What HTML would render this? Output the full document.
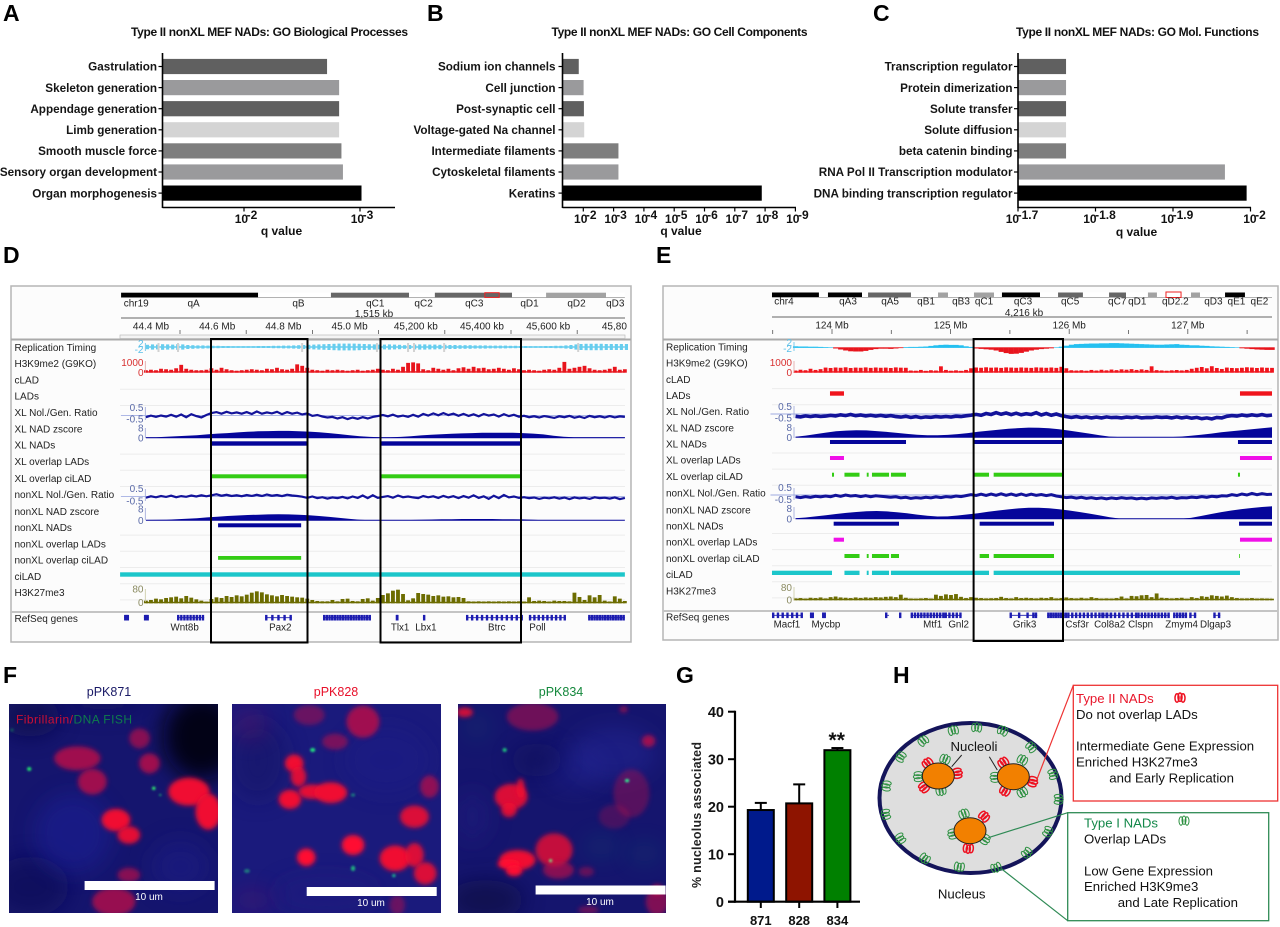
<!DOCTYPE html>
<html lang="en">
<head>
<meta charset="utf-8">
<title>Type II NADs figure</title>
<style>
html,body{margin:0;padding:0;background:#fff;width:1280px;height:927px;overflow:hidden}
svg{display:block}
text{font-family:"Liberation Sans",sans-serif;fill:#111}
.letter{font-size:23px;font-weight:bold;fill:#000}
.tl{font-size:10px;fill:#222}
.hd{font-size:10px;fill:#222}
.gn{font-size:9.8px;fill:#222}
.h{font-size:13.2px;fill:#111}
.f{font-size:12.5px}
.um{font-size:10px;fill:#fff}
</style>
</head>
<body>
<svg id="fig" xmlns="http://www.w3.org/2000/svg" width="1280" height="927" viewBox="0 0 1280 927">
<defs>
<filter id="b1" x="-100%" y="-100%" width="300%" height="300%"><feGaussianBlur stdDeviation="1"/></filter>
<filter id="b3" x="-100%" y="-100%" width="300%" height="300%"><feGaussianBlur stdDeviation="2.3"/></filter>
<filter id="b8" x="-200%" y="-200%" width="500%" height="500%"><feGaussianBlur stdDeviation="11"/></filter>
<clipPath id="clipF1"><rect x="9" y="704" width="209" height="209"/></clipPath>
<clipPath id="clipF2"><rect x="232" y="704" width="209" height="209"/></clipPath>
<clipPath id="clipF3"><rect x="458" y="704" width="208" height="209"/></clipPath>
</defs>
<rect x="0" y="0" width="1280" height="927" fill="#fff"/>

<text class="letter" x="3" y="21">A</text>
<text class="letter" x="427" y="21">B</text>
<text class="letter" x="873" y="21">C</text>
<text class="letter" x="3" y="263">D</text>
<text class="letter" x="656" y="263">E</text>
<text class="letter" x="3" y="683">F</text>
<text class="letter" x="676" y="683">G</text>
<text class="letter" x="893" y="683">H</text>

<g id="chartA">
<text x="131" y="36" font-size="12" font-weight="bold" textLength="277">Type II nonXL MEF NADs: GO Biological Processes</text>
<text x="281.5" y="235" font-size="12" font-weight="bold" text-anchor="middle">q value</text>
</g>
<g id="chartB">
<text x="551.5" y="36" font-size="12" font-weight="bold" textLength="256">Type II nonXL MEF NADs: GO Cell Components</text>
<text x="681" y="235" font-size="12" font-weight="bold" text-anchor="middle">q value</text>
</g>
<g id="chartC">
<text x="1016" y="36" font-size="12" font-weight="bold" textLength="243">Type II nonXL MEF NADs: GO Mol. Functions</text>
<text x="1136.5" y="236" font-size="12" font-weight="bold" text-anchor="middle">q value</text>
</g>

<g id="browserD">
<rect x="11" y="286" width="620" height="356" fill="#fcfcfc" stroke="#b5b5b5" stroke-width="1.5"/>
<line x1="11" y1="339.5" x2="631" y2="339.5" stroke="#aaa" stroke-width="2"/>
<rect x="11" y="611" width="620" height="2" fill="#c4c4c4"/>
<g id="rowsD"></g>
<g id="headerD"></g>
<g id="tracksD"></g>
<text class="tl" x="14.5" y="351">Replication Timing</text>
<text class="tl" x="14.5" y="367">H3K9me2 (G9KO)</text>
<text class="tl" x="14.5" y="383.5">cLAD</text>
<text class="tl" x="14.5" y="399.5">LADs</text>
<text class="tl" x="14.5" y="416">XL Nol./Gen. Ratio</text>
<text class="tl" x="14.5" y="432.5">XL NAD zscore</text>
<text class="tl" x="14.5" y="448.5">XL NADs</text>
<text class="tl" x="14.5" y="465">XL overlap LADs</text>
<text class="tl" x="14.5" y="482">XL overlap ciLAD</text>
<text class="tl" x="14.5" y="498">nonXL Nol./Gen. Ratio</text>
<text class="tl" x="14.5" y="515">nonXL NAD zscore</text>
<text class="tl" x="14.5" y="531">nonXL NADs</text>
<text class="tl" x="14.5" y="547.5">nonXL overlap LADs</text>
<text class="tl" x="14.5" y="563.5">nonXL overlap ciLAD</text>
<text class="tl" x="14.5" y="580">ciLAD</text>
<text class="tl" x="14.5" y="596">H3K27me3</text>
<text class="tl" x="14.5" y="622">RefSeq genes</text>
<rect x="211" y="339" width="96.5" height="303.5" fill="none" stroke="#000" stroke-width="2"/>
<rect x="380.5" y="339" width="140.5" height="303.5" fill="none" stroke="#000" stroke-width="2"/>
</g>

<g id="browserE">
<rect x="663" y="286" width="615" height="354" fill="#fcfcfc" stroke="#b5b5b5" stroke-width="1.5"/>
<line x1="663" y1="339.5" x2="1278" y2="339.5" stroke="#aaa" stroke-width="2"/>
<rect x="663" y="610" width="615" height="2" fill="#c4c4c4"/>
<g id="rowsE"></g>
<g id="headerE"></g>
<g id="tracksE"></g>
<text class="tl" x="666" y="350.5">Replication Timing</text>
<text class="tl" x="666" y="366.5">H3K9me2 (G9KO)</text>
<text class="tl" x="666" y="383">cLAD</text>
<text class="tl" x="666" y="399">LADs</text>
<text class="tl" x="666" y="415">XL Nol./Gen. Ratio</text>
<text class="tl" x="666" y="431.5">XL NAD zscore</text>
<text class="tl" x="666" y="447.5">XL NADs</text>
<text class="tl" x="666" y="463.5">XL overlap LADs</text>
<text class="tl" x="666" y="480">XL overlap ciLAD</text>
<text class="tl" x="666" y="496.5">nonXL Nol./Gen. Ratio</text>
<text class="tl" x="666" y="513.5">nonXL NAD zscore</text>
<text class="tl" x="666" y="529.5">nonXL NADs</text>
<text class="tl" x="666" y="545.5">nonXL overlap LADs</text>
<text class="tl" x="666" y="562">nonXL overlap ciLAD</text>
<text class="tl" x="666" y="578">ciLAD</text>
<text class="tl" x="666" y="594.5">H3K27me3</text>
<text class="tl" x="666" y="620.5">RefSeq genes</text>
<rect x="973.6" y="339" width="89.4" height="302" fill="none" stroke="#000" stroke-width="2"/>
</g>

<g id="panelF">
<text class="f" x="109" y="696" text-anchor="middle" style="fill:#1a1a66">pPK871</text>
<text class="f" x="336" y="696" text-anchor="middle" style="fill:#e8102a">pPK828</text>
<text class="f" x="561" y="696" text-anchor="middle" style="fill:#14883c">pPK834</text>
<g id="imgF1" clip-path="url(#clipF1)"></g>
<g id="imgF2" clip-path="url(#clipF2)"></g>
<g id="imgF3" clip-path="url(#clipF3)"></g>
<text x="16" y="723.5" font-size="12" textLength="116"><tspan style="fill:#cc0f35">Fibrillarin/</tspan><tspan style="fill:#0e7c4c">DNA FISH</tspan></text>
<rect x="84.6" y="881" width="130" height="9" fill="#fff"/>
<text class="um" x="149" y="900" text-anchor="middle">10 um</text>
<rect x="306.7" y="887" width="130" height="9" fill="#fff"/>
<text class="um" x="371" y="906" text-anchor="middle">10 um</text>
<rect x="535.6" y="885.5" width="130" height="9" fill="#fff"/>
<text class="um" x="600" y="905" text-anchor="middle">10 um</text>
</g>

<g id="chartG">
<text transform="translate(701,815) rotate(-90)" font-size="12.5" font-weight="bold" text-anchor="middle" textLength="146" style="fill:#222">% nucleolus associated</text>
<text x="836.7" y="747" font-size="21" font-weight="bold" text-anchor="middle">**</text>
</g>

<g id="panelH">
<ellipse cx="970.5" cy="798" rx="91" ry="75" fill="#dedede" stroke="#14145a" stroke-width="4"/>
<g id="loops"></g>
<ellipse cx="938.3" cy="776" rx="16" ry="13" fill="#f28000" stroke="#222" stroke-width="1"/>
<ellipse cx="1013.3" cy="776.7" rx="16" ry="13" fill="#f28000" stroke="#222" stroke-width="1"/>
<ellipse cx="970" cy="830.7" rx="16" ry="13" fill="#f28000" stroke="#222" stroke-width="1"/>
<text class="h" x="974" y="751" text-anchor="middle">Nucleoli</text>
<line x1="951.7" y1="766.7" x2="961.7" y2="755" stroke="#222"/>
<line x1="997.3" y1="770" x2="989.3" y2="756.7" stroke="#222"/>
<text class="h" x="961.7" y="898.5" text-anchor="middle">Nucleus</text>
<line x1="1073.3" y1="685.3" x2="1036.7" y2="780" stroke="#e33" stroke-width="1.2"/>
<rect x="1073.3" y="685.3" width="204.4" height="115.7" fill="#fff" stroke="#e33" stroke-width="1.3"/>
<text class="h" x="1076" y="703" style="fill:#e8152a">Type II NADs</text>
<text class="h" x="1076" y="719">Do not overlap LADs</text>
<text class="h" x="1076" y="750.5">Intermediate Gene Expression</text>
<text class="h" x="1076" y="766.5">Enriched H3K27me3</text>
<text class="h" x="1109.3" y="782.5">and Early Replication</text>
<line x1="1067.7" y1="812.7" x2="988.3" y2="837.7" stroke="#2f8a55" stroke-width="1.2"/>
<line x1="1067.7" y1="920.7" x2="1001.7" y2="869" stroke="#2f8a55" stroke-width="1.2"/>
<rect x="1067.7" y="812.7" width="201" height="108" fill="#fff" stroke="#2f8a55" stroke-width="1.3"/>
<text class="h" x="1084" y="827.5" style="fill:#14884a">Type I NADs</text>
<text class="h" x="1084" y="843.5">Overlap LADs</text>
<text class="h" x="1084" y="875.5">Low Gene Expression</text>
<text class="h" x="1084" y="891">Enriched H3K9me3</text>
<text class="h" x="1117.7" y="907">and Late Replication</text>
<g id="loopKeys"></g>
</g>
</svg>

<script>
/* ---------- GO bar charts ---------- */
const goCategoriesA = ['Gastrulation','Skeleton generation','Appendage generation','Limb generation','Smooth muscle force','Sensory organ development','Organ morphogenesis'];
const goValuesA = [2.716,2.82,2.82,2.82,2.84,2.853,3.013];
const goTicksA = [2,3];
const goTickLabelsA = ['-2','-3'];
const goCategoriesB = ['Sodium ion channels','Cell junction','Post-synaptic cell','Voltage-gated Na channel','Intermediate filaments','Cytoskeletal filaments','Keratins'];
const goValuesB = [1.85,2.01,2.02,2.03,3.16,3.16,7.89];
const goTicksB = [2,3,4,5,6,7,8,9];
const goTickLabelsB = ['-2','-3','-4','-5','-6','-7','-8','-9'];
const goCategoriesC = ['Transcription regulator','Protein dimerization','Solute transfer','Solute diffusion','beta catenin binding','RNA Pol II Transcription modulator','DNA binding transcription regulator'];
const goValuesC = [1.762,1.762,1.762,1.762,1.762,1.967,1.995];
const goTicksC = [1.7,1.8,1.9,2];
const goTickLabelsC = ['-1.7','-1.8','-1.9','-2'];
const goShades = ['#606060','#9a9a9c','#606060','#d4d4d4','#7e7e7e','#9a9a9c','#000000'];

/* ---------- Browser D (chr19) ---------- */
const bandStartsD = [44.222,44.636,44.856,45.092,45.170,45.403,45.506,45.687];
const bandEndsD = [44.636,44.856,45.092,45.170,45.403,45.506,45.687,45.744];
const bandStainsD = ['black','white','dark','white','dark','white','gray','white'];
const bandLabelsD = ['chr19','qA','qB','qC1','qC2','qC3','qD1','qD2','qD3'];
const bandLabelMbD = [44.23,44.441,44.758,44.99,45.136,45.289,45.456,45.598,45.715];
const scaleTicksD = [44.4,44.6,44.8,45.0,45.2,45.4,45.6,45.8];
const scaleLabelsD = ['44.4 Mb','44.6 Mb','44.8 Mb','45.0 Mb','45,200 kb','45,400 kb','45,600 kb','45,80'];
const repD = [1.1,1.3,1.2,1.4,1.3,1.2,1.4,1.3,1.0,0.9,0.8,0.8,0.7,0.6,0.6,0.5,0.5,0.4,0.4,0.4,0.4,0.4,0.5,0.5,0.5,0.6,0.6,0.7,0.7,0.8,0.9,1.0,1.1,1.2,1.3,1.4,1.5,1.6,1.7,1.7,1.7,1.7,1.6,1.5,1.4,1.3,1.2,1.2,1.3,1.2,1.1,0.9,1.0,1.2,1.3,1.3,1.2,1.2,1.1,1.1,1.0,1.0,0.9,0.9,0.9,0.8,0.8,0.8,0.7,0.7,0.7,0.7,0.6,0.6,0.5,0.5,0.4,0.4,0.4,0.5,0.5,0.6,0.6,0.8,1.0,1.3,1.5,1.6,1.6,1.6,1.6,1.5,1.5,1.5,1.5,1.5];
const repGapsD = [44.332,44.391,44.766,44.992,45.086,45.104,45.195,45.60];
const h3k9D = [150,200,150,300,250,200,350,700,300,200,150,150,200,350,200,400,250,150,100,150,200,250,200,150,300,250,400,250,200,300,750,600,400,200,150,100,200,150,200,150,100,150,200,100,150,200,300,200,150,300,200,500,900,950,850,250,150,400,300,200,300,150,350,450,300,500,350,400,250,300,400,300,200,350,250,150,200,150,100,200,250,200,400,1000,300,400,500,600,350,200,150,200,300,500,200,250];
const xlRatioD = [-0.12,-0.02,-0.1,-0.01,-0.08,0.03,-0.09,0.05,-0.12,0.07,-0.05,-0.13,0.02,0.14,0.2,0.1,0.22,0.12,0.18,0.1,0.2,0.08,0.24,0.1,0.18,0.12,0.22,0.07,0.2,0.1,0.17,0.05,0.12,-0.04,0.02,-0.08,-0.14,-0.1,-0.2,-0.12,-0.24,-0.14,-0.22,-0.12,-0.2,-0.1,-0.05,0.02,-0.06,0.04,-0.08,-0.02,-0.1,0.03,-0.09,0.08,-0.02,0.12,0.0,0.14,0.01,0.1,-0.03,0.09,-0.04,0.06,-0.06,0.08,-0.02,0.05,-0.08,0.07,-0.05,0.03,-0.09,-0.03,-0.12,-0.06,-0.14,-0.05,-0.1,-0.16,-0.06,-0.12,-0.04,-0.15,-0.08,-0.17,-0.04,-0.12,-0.06,-0.14,-0.05,-0.13,-0.07,-0.1];
const xlZD = [0.3,0.4,0.7,1.1,1.5,2.0,2.6,3.3,3.7,4.2,4.7,5.1,5.3,5.4,5.4,5.2,4.9,4.4,3.7,2.9,2.0,1.2,0.6,0.3,0.3,0.6,1.2,1.8,2.3,2.7,3.1,3.4,3.7,3.9,4.0,4.0,3.9,3.7,3.3,2.6,1.6,0.8,0.4,0.3,0.3,0.3,0.3,0.3];
const nonRatioD = [-0.08,0.03,-0.05,0.06,-0.02,0.08,-0.04,0.05,-0.01,0.1,0.02,0.12,0.03,0.12,0.2,0.08,0.16,0.06,0.12,0.04,0.14,0.07,0.16,0.06,0.18,0.08,0.14,0.05,0.17,0.1,0.06,0.0,-0.1,0.02,-0.12,-0.04,-0.16,-0.06,-0.12,-0.02,-0.14,0.02,-0.1,0.1,-0.12,0.12,-0.1,-0.02,0.05,-0.08,0.1,-0.04,0.02,-0.06,-0.12,0.06,-0.05,0.03,-0.1,0.07,-0.07,0.04,-0.12,0.05,-0.08,0.12,-0.1,0.03,-0.18,0.08,-0.12,0.14,-0.06,0.02,-0.1,-0.04,-0.12,-0.07,-0.18,-0.08,-0.13,-0.05,-0.16,-0.07,-0.2,-0.06,-0.14,-0.08,-0.18,-0.05,-0.12,-0.08,-0.16,-0.06,-0.2,-0.1];
const nonZD = [0.2,0.3,0.5,0.8,1.2,1.7,2.3,2.9,3.4,3.8,4.2,4.5,4.7,4.8,4.7,4.4,4.0,3.4,2.7,1.9,1.1,0.4,0,0,0,0,0.2,0.4,0.6,0.8,0.9,1,1,1,1,0.9,0.8,0.7,0.4,0.1,0,0,0,0,0,0,0,0];
const h3k27D = [10,14,22,18,26,30,34,24,38,28,18,10,4,20,30,26,38,32,42,36,46,58,66,60,48,42,36,44,38,34,30,28,22,14,8,6,6,14,6,20,22,8,6,20,24,10,26,44,54,70,76,50,12,24,56,50,46,38,42,34,36,30,32,26,6,5,6,5,6,5,6,5,6,5,6,5,30,8,10,8,5,10,8,8,6,58,32,14,42,30,44,10,5,36,22,8];
const xlNadStartsD = [44.494,45.006];
const xlNadEndsD = [44.785,45.43];
const nonNadStartsD = [44.515];
const nonNadEndsD = [44.766];
const ciladStartsD = [44.219];
const ciladEndsD = [45.744];
const geneStartsD = [44.231,44.291,44.391,44.657,44.832,45.053,45.134,45.264,45.454,45.633];
const geneEndsD = [44.246,44.306,44.473,44.738,44.977,45.059,45.137,45.436,45.566,45.744];
const geneExonsD = [3,3,9,5,18,2,1,12,9,14];
const geneNamesD = ['Wnt8b','Pax2','Tlx1','Lbx1','Btrc','Poll'];
const geneNameMbD = [44.414,44.703,45.065,45.143,45.357,45.48];

/* ---------- Browser E (chr4) ---------- */
const bandStartsE = [123.494,123.89,123.966,124.253,124.304,124.666,124.894,124.978,125.197,125.366,125.433,125.754,125.906,126.116,126.336,126.479,126.664,126.74,127.027,127.103,127.314,127.482];
const bandEndsE = [123.89,123.966,124.253,124.304,124.666,124.894,124.978,125.197,125.366,125.433,125.754,125.906,126.116,126.336,126.479,126.664,126.74,127.027,127.103,127.314,127.482,127.71];
const bandStainsE = ['black','white','black','white','dark','white','gray','white','gray','white','black','white','dark','white','dark','white','gray','white','gray','white','black','white'];
const bandLabelsE = ['chr4','qA3','qA5','qB1','qB3','qC1','qC3','qC5','qC7','qD1','qD2.2','qD3','qE1','qE2'];
const bandLabelMbE = [123.595,124.135,124.49,124.793,125.088,125.282,125.611,126.008,126.405,126.574,126.895,127.216,127.41,127.604];
const scaleTicksE = [124,125,126,127];
const scaleLabelsE = ['124 Mb','125 Mb','126 Mb','127 Mb'];
const minorTicksE = [123.5,124.5,125.5,126.5,127.5];
const repE = [0.5,0.4,0.4,0.3,0.3,0.2,0.1,0,-0.3,-0.8,-1.3,-1.7,-1.8,-1.8,-1.5,-1.0,-0.6,-0.4,-0.4,-0.5,-0.3,-0.1,0.1,0.2,0.2,0.3,0.4,0.7,1.0,1.2,1.3,1.2,1.2,1.0,0.5,0.2,-0.3,-0.5,-0.7,-0.9,-1.3,-2.0,-2.6,-3.0,-2.9,-2.5,-1.9,-1.3,-0.9,-0.6,-0.4,-0.2,0,0.3,0.8,1.3,1.6,1.7,1.8,1.9,1.9,2.0,2.0,2.1,2.1,2.0,1.9,1.8,1.7,1.6,1.5,1.4,1.3,1.3,1.4,1.5,1.6,1.3,1.2,1.0,1.0,0.8,0.7,0.5,0.4,0.3,0.2,0.1,0,-0.2,-0.4,-0.6,-0.8,-0.9,-1.0,-1.0];
const h3k9E = [120,200,150,300,180,260,420,380,430,400,450,380,420,400,440,390,430,400,420,380,440,410,400,120,100,180,90,150,120,550,180,100,140,90,180,350,430,400,450,410,430,390,440,420,400,430,410,390,440,420,400,430,390,500,350,150,120,150,100,180,120,200,140,220,160,240,200,260,180,240,180,550,160,130,100,140,170,130,180,300,400,480,350,560,380,280,420,380,360,400,450,420,380,430,400,390];
const xlRatioE = [-0.18,-0.22,-0.15,-0.2,-0.14,-0.19,-0.16,-0.1,-0.15,-0.06,-0.12,-0.04,-0.13,-0.08,-0.15,-0.09,-0.16,-0.1,-0.18,-0.12,-0.2,-0.24,-0.18,-0.26,-0.2,-0.28,-0.22,-0.25,-0.2,-0.24,-0.19,-0.23,-0.17,-0.2,-0.14,-0.09,-0.03,-0.1,0.04,-0.04,0.1,-0.02,0.08,-0.05,0.06,-0.06,0.02,-0.04,0.1,-0.08,0.04,-0.1,0.0,-0.12,-0.2,-0.26,-0.2,-0.28,-0.22,-0.3,-0.24,-0.3,-0.22,-0.28,-0.25,-0.3,-0.24,-0.28,-0.22,-0.3,-0.26,-0.28,-0.22,-0.26,-0.24,-0.3,-0.22,-0.3,-0.24,-0.32,-0.26,-0.36,-0.3,-0.38,-0.26,-0.3,-0.18,-0.12,-0.16,-0.08,-0.14,-0.06,-0.12,-0.05,-0.13,-0.08];
const xlZE = [0.4,1.4,2.6,3.8,4.8,5.4,5.6,5.5,5.0,4.3,3.5,2.7,2.0,1.6,1.6,1.9,2.6,3.4,4.4,5.2,6.0,6.8,7.4,7.8,7.7,7.2,6.4,5.4,4.2,3.0,1.6,0.6,0.2,0.1,0.1,0.1,0.1,0.2,0.6,1.2,2.0,3.0,4.0,4.8,5.6,6.4,7.2,8.0];
const nonRatioE = [-0.14,-0.2,-0.12,-0.18,-0.1,-0.15,-0.08,-0.13,-0.02,-0.1,0.0,-0.08,-0.04,-0.12,-0.05,-0.13,-0.06,-0.1,-0.14,-0.18,-0.14,-0.22,-0.18,-0.26,-0.2,-0.24,-0.18,-0.22,-0.15,-0.2,-0.12,-0.16,-0.08,-0.12,-0.05,0.02,-0.04,0.06,-0.03,0.08,-0.02,0.09,-0.02,0.07,-0.03,0.08,-0.04,0.06,-0.02,0.04,-0.05,0.02,-0.08,-0.14,-0.2,-0.16,-0.24,-0.18,-0.26,-0.2,-0.28,-0.22,-0.3,-0.22,-0.28,-0.2,-0.26,-0.22,-0.3,-0.24,-0.3,-0.22,-0.26,-0.2,-0.24,-0.18,-0.26,-0.2,-0.22,-0.16,-0.2,-0.12,-0.18,-0.1,-0.14,-0.06,-0.08,0.02,-0.04,0.08,0.0,0.12,0.02,0.1,0.04,0.06];
const nonZE = [0.3,0.9,1.7,2.5,3.4,4.2,4.9,5.4,5.6,5.3,4.7,3.9,3.0,2.2,1.6,1.7,2.3,3.1,4.0,5.0,6.0,6.8,7.5,8.0,8.0,7.6,6.9,6.0,4.9,3.7,2.4,1.0,0.1,0,0,0,0,0,0,0.6,2.0,3.4,4.8,6.0,7.0,7.8,8.5,9.0];
const h3k27E = [6,8,5,10,8,12,6,14,18,12,10,8,12,9,12,10,14,12,16,18,14,30,10,5,4,6,8,5,30,22,32,28,34,16,8,14,10,8,6,7,8,16,8,6,14,8,10,8,6,10,8,14,6,8,12,8,6,10,6,14,8,5,6,5,8,18,6,22,20,26,28,14,38,10,8,6,8,10,4,14,8,20,16,26,22,18,24,14,8,6,6,8,5,6,5,4];
const ladStartsE = [123.983,127.44];
const ladEndsE = [124.101,127.71];
const xlNadStartsE = [123.983,125.194,127.423];
const xlNadEndsE = [124.624,125.944,127.71];
const xlOvlLadStartsE = [123.983,127.44];
const xlOvlLadEndsE = [124.101,127.71];
const xlOvlCiStartsE = [124.0,124.105,124.293,124.337,124.497,125.194,125.363,127.423];
const xlOvlCiEndsE = [124.017,124.232,124.309,124.481,124.624,125.324,125.944,127.44];
const nonNadStartsE = [124.014,125.245,127.432];
const nonNadEndsE = [124.565,125.872,127.71];
const nonOvlLadStartsE = [124.014,127.44];
const nonOvlLadEndsE = [124.101,127.71];
const nonOvlCiStartsE = [124.105,124.293,124.337,124.497,125.245,125.363,127.432];
const nonOvlCiEndsE = [124.232,124.309,124.481,124.565,125.324,125.872,127.437];
const ciladStartsE = [123.494,124.105,124.293,124.337,124.497,125.363];
const ciladEndsE = [124.0,124.232,124.309,124.481,125.324,127.44];
const geneStartsE = [123.494,123.814,123.916,124.447,124.565,124.663,124.949,125.497,125.688,125.814,125.983,126.27,126.574,126.876,127.012,127.215];
const geneEndsE = [123.755,123.848,123.949,124.481,124.574,124.949,125.093,125.73,125.722,125.983,126.363,126.574,126.848,126.994,127.071,127.274];
const geneExonsE = [7,2,2,1,1,11,5,4,1,8,12,9,10,5,2,2];
const geneNamesE = ['Macf1','Mycbp','Mtf1','Gnl2','Grik3','Csf3r','Col8a2','Clspn','Zmym4','Dlgap3'];
const geneNameMbE = [123.62,123.949,124.849,125.068,125.624,126.067,126.341,126.602,126.948,127.234];

/* ---------- Panel G ---------- */
const plasmidLabels = ['871','828','834'];
const nucleolusMeans = [19.3,20.7,31.9];
const nucleolusErrors = [1.5,4.0,0.45];
const nucleolusStains = ['blue','red','green'];
const yTicksG = [0,10,20,30,40];

const NS = 'http://www.w3.org/2000/svg';
function mk(parent, tag, attrs, name) {
  const el = document.createElementNS(NS, tag);
  for (const k in attrs) el.setAttribute(k, attrs[k]);
  
  
  parent.appendChild(el);
  return el;
}
function txt(parent, x, y, str, attrs, name) {
  const a = Object.assign({x: x, y: y}, attrs);
  const el = mk(parent, 'text', a, name);
  el.textContent = str;
  return el;
}
const $ = id => document.getElementById(id);

/* GO horizontal bar chart */
function goChart(g, categories, values, ticks, tickLabels, opt) {
  const xScale = v => opt.x0 + (v - opt.v0) * opt.pxPerUnit;
  const rowY = i => 66.5 + i * 21.1;
  categories.forEach((c, i) => {
    mk(g, 'rect', {x: opt.axisX, y: rowY(i) - 7.6, width: xScale(values[i]) - opt.axisX, height: 15.2, fill: goShades[i]}, 'go-bar');
    mk(g, 'line', {x1: opt.axisX - 4, x2: opt.axisX, y1: rowY(i), y2: rowY(i), stroke: '#000', 'stroke-width': 1.2}, 'y-tick');
    txt(g, opt.axisX - opt.labelGap, rowY(i) + 4.2, c, {'font-size': 11.7, 'font-weight': 'bold', 'text-anchor': 'end', style: 'fill:#151515'}, 'go-category-label');
  });
  mk(g, 'line', {x1: opt.axisX, x2: opt.axisX, y1: 53, y2: 208, stroke: '#000', 'stroke-width': 1.6}, 'y-axis');
  mk(g, 'line', {x1: opt.axisX, x2: opt.xEnd, y1: 207.5, y2: 207.5, stroke: '#000', 'stroke-width': 1.6}, 'x-axis');
  ticks.forEach((t, i) => {
    const x = xScale(t);
    mk(g, 'line', {x1: x, x2: x, y1: 207, y2: 211.5, stroke: '#000', 'stroke-width': 1.2}, 'x-tick');
    const label = txt(g, x + opt.labelDx, 223, '10', {'font-size': 12, 'font-weight': 'bold', 'text-anchor': 'middle'}, 'x-tick-label');
    const s = document.createElementNS(NS, 'tspan');
    s.setAttribute('dy', '-4');
    s.setAttribute('dx', '-1.5');
    s.textContent = tickLabels[i];
    label.appendChild(s);
  });
}
goChart($('chartA'), goCategoriesA, goValuesA, goTicksA, goTickLabelsA, {x0: 244, v0: 2, pxPerUnit: 116, axisX: 162.5, xEnd: 395, labelDx: 2, labelGap: 5.5});
goChart($('chartB'), goCategoriesB, goValuesB, goTicksB, goTickLabelsB, {x0: 583.3, v0: 2, pxPerUnit: 30.3, axisX: 562.5, xEnd: 796, labelDx: 2, labelGap: 7});
goChart($('chartC'), goCategoriesC, goValuesC, goTicksC, goTickLabelsC, {x0: 1018, v0: 1.7, pxPerUnit: 775, axisX: 1018, xEnd: 1251, labelDx: 4, labelGap: 5.5});

/* Genome browser helpers */
const xD = mb => 180 + (mb - 44.4) * 331;
const xE = mb => 832 + (mb - 124) * 118.6;
const stainFill = {black: '#000', dark: '#666', gray: '#a2a2a2', white: '#fff'};

function ideogram(g, scale, starts, ends, stains, yTop) {
  starts.forEach((s, i) => {
    mk(g, 'rect', {x: scale(s), y: yTop, width: scale(ends[i]) - scale(s), height: 4.7, fill: stainFill[stains[i]]}, 'cytoband');
  });
  mk(g, 'line', {x1: scale(starts[0]), x2: scale(ends[ends.length - 1]), y1: yTop + 4.9, y2: yTop + 4.9, stroke: '#999', 'stroke-width': 0.7}, 'ideogram-outline');
}
function segments(g, scale, starts, ends, y0, h, color, name) {
  starts.forEach((s, i) => {
    mk(g, 'rect', {x: scale(s), y: y0, width: Math.max(0.8, scale(ends[i]) - scale(s)), height: h, fill: color}, name);
  });
}
function binMb(i, n, a, b) { return a + (b - a) * i / (n - 1); }
function areaTrack(g, scale, values, a, b, zeroY, k, color, name) {
  let d = 'M' + scale(a) + ' ' + zeroY;
  values.forEach((v, i) => { d += 'L' + scale(binMb(i, values.length, a, b)).toFixed(1) + ' ' + (zeroY - v * k).toFixed(1); });
  d += 'L' + scale(b) + ' ' + zeroY + 'Z';
  mk(g, 'path', {d: d, fill: color}, name);
  mk(g, 'line', {x1: scale(a), x2: scale(b), y1: zeroY, y2: zeroY, stroke: color, 'stroke-width': 1}, name + '-baseline');
}
function barTrack(g, scale, values, a, b, zeroY, k, color, name) {
  const w = (scale(b) - scale(a)) / (values.length - 1);
  values.forEach((v, i) => {
    mk(g, 'rect', {x: scale(binMb(i, values.length, a, b)) - w * 0.38, y: zeroY - v * k, width: w * 0.76, height: v * k + 1, fill: color}, name);
  });
  mk(g, 'line', {x1: scale(a), x2: scale(b), y1: zeroY + 0.2, y2: zeroY + 0.2, stroke: color, 'stroke-width': 1.4}, name + '-baseline');
}
function ratioTrack(g, scale, values, a, b, zeroY, k, width, name) {
  const pts = values.map((v, i) => scale(binMb(i, values.length, a, b)).toFixed(1) + ',' + (zeroY - v * k).toFixed(1)).join(' ');
  mk(g, 'line', {x1: scale(a) - 25, x2: scale(b), y1: zeroY, y2: zeroY, stroke: '#7f8fd8', 'stroke-width': 0.7}, name + '-zero-line');
  mk(g, 'polyline', {points: pts, fill: 'none', stroke: '#13139a', 'stroke-width': width}, name);
}
function genes(g, scale, starts, ends, exons, y) {
  starts.forEach((s, i) => {
    const x1 = scale(s), x2 = scale(ends[i]);
    mk(g, 'line', {x1: x1, x2: x2, y1: y, y2: y, stroke: '#1c1cb0', 'stroke-width': 0.8}, 'gene-body');
    for (let e = 0; e < exons[i]; e++) {
      const ex = exons[i] > 1 ? x1 + (x2 - x1 - 2.4) * e / (exons[i] - 1) : x1;
      mk(g, 'rect', {x: ex, y: y - 2.8, width: 2.4, height: 5.6, fill: '#1c1cb0'}, 'gene-exon');
    }
  });
}
function axisLabels(g, x, entries) {
  entries.forEach(e => {
    txt(g, x, e[1], e[0], {'font-size': 10, 'text-anchor': 'end', style: 'fill:' + e[2]}, 'track-axis-label');
  });
}
function rowLines(g, x1, x2, y0, step) {
  [3, 4, 7, 8, 9, 12, 13, 14, 15, 16].forEach(k => {
    mk(g, 'line', {x1: x1, x2: x2, y1: y0 + k * step, y2: y0 + k * step, stroke: '#ececec', 'stroke-width': 1}, 'track-row-line');
  });
}

/* Browser D */
(function () {
  const h = $('headerD'), t = $('tracksD');
  rowLines($('rowsD'), 120, 625, 340.7, 16.2);
  ideogram(h, xD, bandStartsD, bandEndsD, bandStainsD, 292.7);
  mk(h, 'rect', {x: xD(45.321), y: 292.7, width: xD(45.364) - xD(45.321), height: 4.7, fill: 'none', stroke: '#e22', 'stroke-width': 1}, 'current-view-marker');
  bandLabelsD.forEach((l, i) => { txt(h, xD(bandLabelMbD[i]) , 306.5, l, {'class': 'hd', 'text-anchor': i ? 'middle' : 'start'}, 'cytoband-label'); });
  mk(h, 'line', {x1: 121, x2: 625, y1: 318, y2: 318, stroke: '#333', 'stroke-width': 0.7}, 'scale-line');
  txt(h, 374, 317, '1,515 kb', {'class': 'hd', 'text-anchor': 'middle'}, 'scale-length-label');
  mk(h, 'rect', {x: 120, y: 335, width: 505, height: 3.5, fill: '#f4f4f4', stroke: '#bbb', 'stroke-width': 0.7}, 'scale-strip');
  scaleTicksD.forEach((m, i) => {
    if (xD(m) < 625) {
      mk(h, 'line', {x1: xD(m), x2: xD(m), y1: 330, y2: 334, stroke: '#555', 'stroke-width': 0.8}, 'scale-tick');
    }
    txt(h, xD(m) - 29, 329.5, scaleLabelsD[i], {'class': 'hd', 'text-anchor': 'middle'}, 'scale-tick-label');
  });

  const a = 44.297, b = 45.744;
  const repW = (xD(b) - xD(a)) / (repD.length - 1) * 0.62;
  repD.forEach((v, i) => {
    mk(t, 'rect', {x: xD(binMb(i, repD.length, a, b)), y: 347 - v * 2, width: repW, height: v * 4, fill: '#66cdee'}, 'replication-timing-bar');
  });
  mk(t, 'line', {x1: xD(a), x2: xD(b), y1: 347, y2: 347, stroke: '#66cdee', 'stroke-width': 1.4}, 'replication-timing-baseline');
  repGapsD.forEach(m => { mk(t, 'rect', {x: xD(m), y: 343, width: 2, height: 9, fill: '#d2d2d2'}, 'replication-gap'); });
  barTrack(t, xD, h3k9D, a, b, 371.7, 0.0098, '#e8141c', 'h3k9me2-bar');
  ratioTrack(t, xD, xlRatioD, a, b, 415.3, 16, 2.2, 'xl-ratio-line');
  areaTrack(t, xD, xlZD, a, b, 437.7, 1.25, '#05059a', 'xl-zscore-area');
  segments(t, xD, xlNadStartsD, xlNadEndsD, 441.3, 4.4, '#05059a', 'xl-nad-segment');
  segments(t, xD, xlNadStartsD, xlNadEndsD, 474.3, 4, '#33cc14', 'xl-cilad-overlap-segment');
  ratioTrack(t, xD, nonRatioD, a, b, 496.7, 12, 2.2, 'nonxl-ratio-line');
  areaTrack(t, xD, nonZD, a, b, 520.3, 1.25, '#05059a', 'nonxl-zscore-area');
  segments(t, xD, nonNadStartsD, nonNadEndsD, 523.3, 4, '#05059a', 'nonxl-nad-segment');
  segments(t, xD, nonNadStartsD, nonNadEndsD, 556, 3.8, '#33cc14', 'nonxl-cilad-overlap-segment');
  segments(t, xD, ciladStartsD, ciladEndsD, 572.3, 4.4, '#1cc6ca', 'cilad-segment');
  barTrack(t, xD, h3k27D, a, b, 602.3, 0.166, '#6c6c00', 'h3k27me3-bar');
  axisLabels(t, 143.5, [['2',347,'#5bbfe8'],['-2',353,'#5bbfe8'],['1000',366,'#d83030'],['0',376,'#d83030'],['0.5',411,'#5a6aa8'],['-0.5',422.5,'#5a6aa8'],['8',431.5,'#5a6aa8'],['0',441.5,'#5a6aa8'],['0.5',492,'#5a6aa8'],['-0.5',504.5,'#5a6aa8'],['8',512.5,'#5a6aa8'],['0',524,'#5a6aa8'],['80',592.5,'#8a8a60'],['0',606,'#8a8a60']]);
  [[343,351,'#5bbfe8'],[361,373,'#e0a0a0'],[407,420,'#9aa4d8'],[428,438,'#9aa4d8'],[489,501,'#9aa4d8'],[508,520,'#9aa4d8'],[589,602,'#c8c8a0']].forEach(s => {
    mk(t, 'line', {x1: 145.3, x2: 145.3, y1: s[0], y2: s[1], stroke: s[2], 'stroke-width': 0.8}, 'track-axis-bracket');
  });
  genes(t, xD, geneStartsD, geneEndsD, geneExonsD, 617.7);
  geneNamesD.forEach((n, i) => { txt(t, xD(geneNameMbD[i]), 630.5, n, {'class': 'gn', 'text-anchor': 'middle'}, 'gene-label'); });
})();

/* Browser E */
(function () {
  const h = $('headerE'), t = $('tracksE');
  rowLines($('rowsE'), 772, 1272, 340.3, 16.1);
  ideogram(h, xE, bandStartsE, bandEndsE, bandStainsE, 292.5);
  mk(h, 'rect', {x: xE(126.816), y: 292, width: xE(126.943) - xE(126.816), height: 5.5, fill: 'none', stroke: '#e22', 'stroke-width': 1}, 'current-view-marker');
  bandLabelsE.forEach((l, i) => { txt(h, xE(bandLabelMbE[i]), 304.5, l, {'class': 'hd', 'text-anchor': 'middle'}, 'cytoband-label'); });
  mk(h, 'line', {x1: 772, x2: 1272, y1: 317, y2: 317, stroke: '#333', 'stroke-width': 0.7}, 'scale-line');
  txt(h, 1024, 316, '4,216 kb', {'class': 'hd', 'text-anchor': 'middle'}, 'scale-length-label');
  scaleTicksE.forEach((m, i) => {
    mk(h, 'line', {x1: xE(m), x2: xE(m), y1: 329, y2: 334, stroke: '#555', 'stroke-width': 0.8}, 'scale-tick');
    txt(h, xE(m), 328.5, scaleLabelsE[i], {'class': 'hd', 'text-anchor': 'middle'}, 'scale-tick-label');
  });
  minorTicksE.forEach(m => {
    mk(h, 'line', {x1: xE(m), x2: xE(m), y1: 330, y2: 334, stroke: '#555', 'stroke-width': 0.8}, 'scale-minor-tick');
  });

  const a = 123.692, b = 127.71;
  const w = (xE(b) - xE(a)) / (repE.length - 1);
  repE.forEach((v, i) => {
    const yTop = v >= 0 ? 347.3 - v * 2 : 347.3;
    mk(t, 'rect', {x: xE(binMb(i, repE.length, a, b)) - w / 2, y: yTop, width: w + 0.2, height: Math.abs(v) * 2 + 0.6, fill: v >= 0 ? '#25c0f0' : '#e8141c'}, 'replication-timing-bar');
  });
  barTrack(t, xE, h3k9E, a, b, 371.7, 0.0098, '#f0141c', 'h3k9me2-bar');
  segments(t, xE, ladStartsE, ladEndsE, 391.3, 4.4, '#f0141c', 'lad-segment');
  ratioTrack(t, xE, xlRatioE, a, b, 414, 13, 3.6, 'xl-ratio-line');
  areaTrack(t, xE, xlZE, a, b, 437.3, 1.25, '#05059a', 'xl-zscore-area');
  segments(t, xE, xlNadStartsE, xlNadEndsE, 440, 4, '#05059a', 'xl-nad-segment');
  segments(t, xE, xlOvlLadStartsE, xlOvlLadEndsE, 456, 4, '#f010e8', 'xl-lad-overlap-segment');
  segments(t, xE, xlOvlCiStartsE, xlOvlCiEndsE, 472.7, 4, '#33cc14', 'xl-cilad-overlap-segment');
  ratioTrack(t, xE, nonRatioE, a, b, 495, 13, 3, 'nonxl-ratio-line');
  areaTrack(t, xE, nonZE, a, b, 518.7, 1.375, '#05059a', 'nonxl-zscore-area');
  segments(t, xE, nonNadStartsE, nonNadEndsE, 521.7, 4, '#05059a', 'nonxl-nad-segment');
  segments(t, xE, nonOvlLadStartsE, nonOvlLadEndsE, 537.7, 4, '#f010e8', 'nonxl-lad-overlap-segment');
  segments(t, xE, nonOvlCiStartsE, nonOvlCiEndsE, 554, 4, '#33cc14', 'nonxl-cilad-overlap-segment');
  segments(t, xE, ciladStartsE, ciladEndsE, 570.7, 4.3, '#1cc6ca', 'cilad-segment');
  barTrack(t, xE, h3k27E, a, b, 599.3, 0.154, '#6c6c00', 'h3k27me3-bar');
  axisLabels(t, 792, [['2',346,'#5bbfe8'],['-2',352,'#5bbfe8'],['1000',366,'#d83030'],['0',376,'#d83030'],['0.5',410,'#5a6aa8'],['-0.5',421.5,'#5a6aa8'],['8',431,'#5a6aa8'],['0',441,'#5a6aa8'],['0.5',491,'#5a6aa8'],['-0.5',503,'#5a6aa8'],['8',512,'#5a6aa8'],['0',522.5,'#5a6aa8'],['80',591,'#8a8a60'],['0',603.5,'#8a8a60']]);
  [[342,351,'#5bbfe8'],[361,372,'#e0a0a0'],[406,418,'#9aa4d8'],[427,438,'#9aa4d8'],[488,500,'#9aa4d8'],[507,519,'#9aa4d8'],[587,600,'#c8c8a0']].forEach(s => {
    mk(t, 'line', {x1: 794, x2: 794, y1: s[0], y2: s[1], stroke: s[2], 'stroke-width': 0.8}, 'track-axis-bracket');
  });
  genes(t, xE, geneStartsE, geneEndsE, geneExonsE, 615.3);
  geneNamesE.forEach((n, i) => { txt(t, xE(geneNameMbE[i]), 627.5, n, {'class': 'gn', 'text-anchor': 'middle'}, 'gene-label'); });
})();

/* Panel F: microscopy approximations (x, y, rx, ry, colour, opacity, blur) */
const fx = x => x * 0.4295;
const fy = y => 660 + y / 3;
function paintImage(g, bg, blobs) {
  mk(g, 'rect', {x: 0, y: 704, width: 680, height: 209, fill: bg}, 'image-background');
  blobs.forEach(b => {
    const grow = b[6] === 'b3' ? 1.2 : 1;
    mk(g, 'ellipse', {cx: fx(b[0]), cy: fy(b[1]), rx: b[2] * 0.4295 * grow, ry: b[3] / 3 * grow, fill: b[4], opacity: b[5], filter: 'url(#' + b[6] + ')'}, 'image-signal');
  });
}
const R = '#f01030', D = '#b81048';
paintImage($('imgF1'), '#15156e', [
  [470,230,90,130,'#000010',.9,'b8'],[70,170,70,60,'#0a0a48',.7,'b8'],[70,680,90,90,'#0c0c58',.7,'b8'],[170,520,90,120,'#1c20a0',.45,'b8'],[420,620,70,80,'#1b1b88',.5,'b8'],[240,130,110,25,'#0c0c50',.5,'b8'],
  [180,295,45,30,D,.85,'b3'],[215,365,28,32,D,.85,'b3'],[325,235,20,25,D,.7,'b3'],[348,310,20,25,D,.85,'b3'],[440,395,40,35,R,1,'b3'],[485,455,25,45,R,1,'b3'],[270,480,28,28,R,1,'b3'],[300,525,22,22,R,.95,'b3'],[265,725,42,35,D,.8,'b3'],[300,645,22,18,D,.7,'b3'],
  [68,327,5,6,'#20e070',1,'b1'],[358,385,4,5,'#30f070',1,'b1'],[373,405,3,3,'#20c070',.9,'b1'],[28,210,4,5,'#108060',.6,'b1']
]);
paintImage($('imgF2'), '#1a1a7c', [
  [600,300,70,120,'#141465',.5,'b8'],[900,300,100,100,'#1d1d8a',.4,'b8'],[760,700,120,50,'#201a80',.5,'b8'],[580,190,40,50,'#701060',.35,'b8'],[590,720,45,30,'#701060',.35,'b8'],
  [845,185,32,40,D,.85,'b3'],[720,165,30,25,D,.5,'b3'],[780,245,25,20,D,.6,'b3'],[685,310,18,22,R,1,'b3'],[695,350,15,25,R,.9,'b3'],[675,418,22,24,R,1,'b3'],[725,395,25,18,R,.95,'b3'],[770,398,32,26,R,1,'b3'],[1000,380,18,28,D,.75,'b3'],[965,470,28,28,R,.9,'b3'],[822,555,22,25,'#ff1030',1,'b3'],[713,592,18,22,'#ff1030',1,'b3'],[920,595,30,32,R,1,'b3'],[965,585,18,30,R,.9,'b3'],[990,640,22,28,R,.9,'b3'],[925,735,15,25,D,.5,'b3'],
  [728,270,6,6,'#20e080',1,'b1'],[822,405,5,5,'#20a080',.7,'b1'],[822,625,5,8,'#20c080',.9,'b1'],[575,633,7,6,'#20a080',.7,'b1'],[917,647,4,5,'#20c090',.9,'b1']
]);
paintImage($('imgF3'), '#15156e', [
  [1130,720,90,60,'#08083c',.6,'b8'],[1430,280,100,80,'#2a2fa8',.35,'b8'],[1340,330,70,60,'#2a2fa8',.25,'b8'],[1110,200,30,40,'#106070',.2,'b8'],[1400,560,40,30,'#106070',.25,'b8'],[1500,580,40,30,'#106070',.25,'b8'],[1100,470,40,80,'#201a80',.5,'b8'],[1250,300,60,50,'#0e0e55',.45,'b8'],
  [1082,157,16,12,R,.85,'b3'],[1240,170,50,35,D,.55,'b3'],[1452,148,8,8,D,.7,'b3'],[1510,243,13,15,D,.85,'b3'],[1190,410,32,32,R,.9,'b3'],[1212,385,8,25,R,.9,'b3'],[1185,450,15,18,R,.9,'b3'],[1205,600,35,25,R,1,'b3'],[1290,570,36,42,R,.8,'b3'],[1185,612,22,12,'#ff1030',1,'b3'],[1197,632,16,14,'#ff1030',1,'b3'],[1300,630,30,22,D,.7,'b3'],[1470,400,35,60,D,.4,'b3'],[1430,470,30,30,D,.3,'b3'],[1365,635,15,12,D,.5,'b3'],[1530,725,22,35,D,.65,'b3'],[1530,690,12,15,D,.7,'b3'],[1370,750,20,10,D,.5,'b3'],
  [1175,270,5,6,'#20d080',.9,'b1'],[1460,362,5,5,'#30f090',1,'b1'],[1282,602,4,5,'#80e080',.9,'b1']
]);

/* Panel G bar chart */
(function () {
  const g = $('chartG');
  const stainFillG = {blue: '#001a8c', red: '#8e1400', green: '#008000'};
  const yScale = v => 901.7 - v * 4.75;
  const centers = [760.8, 799.2, 837.4];
  nucleolusMeans.forEach((v, i) => {
    const cx = centers[i];
    const top = yScale(v + nucleolusErrors[i]);
    mk(g, 'line', {x1: cx, x2: cx, y1: top, y2: yScale(v), stroke: '#000', 'stroke-width': 2}, 'error-bar');
    mk(g, 'line', {x1: cx - 6, x2: cx + 6, y1: top, y2: top, stroke: '#000', 'stroke-width': 2}, 'error-cap');
    mk(g, 'rect', {x: cx - 13, y: yScale(v), width: 26, height: 901.7 - yScale(v), fill: stainFillG[nucleolusStains[i]], stroke: '#000', 'stroke-width': 2}, 'bar-' + plasmidLabels[i]);
    mk(g, 'line', {x1: cx, x2: cx, y1: 901.7, y2: 908, stroke: '#000', 'stroke-width': 2}, 'x-tick');
    txt(g, cx, 925, plasmidLabels[i], {'font-size': 13, 'font-weight': 'bold', 'text-anchor': 'middle'}, 'x-tick-label');
  });
  mk(g, 'line', {x1: 735, x2: 735, y1: 710.7, y2: 902.7, stroke: '#000', 'stroke-width': 2.2}, 'y-axis');
  mk(g, 'line', {x1: 728, x2: 860, y1: 901.7, y2: 901.7, stroke: '#000', 'stroke-width': 2.2}, 'x-axis');
  yTicksG.forEach(t => {
    mk(g, 'line', {x1: 728, x2: 735, y1: yScale(t), y2: yScale(t), stroke: '#000', 'stroke-width': 2}, 'y-tick');
    txt(g, 724, yScale(t) + 5.5, String(t), {'font-size': 14.5, 'font-weight': 'bold', 'text-anchor': 'end'}, 'y-tick-label');
  });
})();

/* Panel H chromatin loops */
(function () {
  const g = $('loops');
  const hx = x => 860 + x / 3, hy = y => 660 + y / 3;
  function clover(parent, x, y, color, angle, sw) {
    const c = mk(parent, 'g', {transform: 'translate(' + x + ',' + y + ') rotate(' + angle + ')', fill: 'none', stroke: color, 'stroke-width': sw}, 'chromatin-loop');
    [-3, 0, 3].forEach(dx => {
      mk(c, 'ellipse', {cx: dx, cy: dx === 0 ? -0.8 : 0, rx: 2, ry: 4.2}, 'loop-lobe');
    });
  }
  const green = '#2c9040', red = '#ee1020';
  const peripheral = [[280,212],[350,203],[428,213],[190,243],[123,291],[513,262],[578,343],[80,378],[595,418],[78,463],[563,515],[122,535],[500,578],[195,595],[298,620],[408,622]];
  peripheral.forEach(p => {
    const x = hx(p[0]), y = hy(p[1]);
    clover(g, x, y, green, Math.atan2(y - 798, x - 970.5) * 180 / Math.PI + 90, 1);
  });
  const around = [[255,298,0],[175,350,0],[243,392,0],[487,300,1],[405,352,1],[487,397,1],[312,462,2],[278,522,2],[375,538,2]];
  const redAround = [[203,310,0],[292,340,0],[192,382,0],[430,308,1],[518,365,1],[435,392,1],[372,470,2],[325,565,2]];
  const centres = [[938.3,776],[1013.3,776.7],[970,830.7]];
  around.forEach(p => {
    const x = hx(p[0]), y = hy(p[1]), c = centres[p[2]];
    clover(g, x, y, green, Math.atan2(y - c[1], x - c[0]) * 180 / Math.PI + 90, 1);
  });
  redAround.forEach(p => {
    const x = hx(p[0]), y = hy(p[1]), c = centres[p[2]];
    clover(g, x, y, red, Math.atan2(y - c[1], x - c[0]) * 180 / Math.PI + 90, 1.5);
  });
  clover($('loopKeys'), 1180, 698, red, 0, 1.5);
  clover($('loopKeys'), 1184, 821, green, 0, 1);
})();
</script>
</body>
</html>
